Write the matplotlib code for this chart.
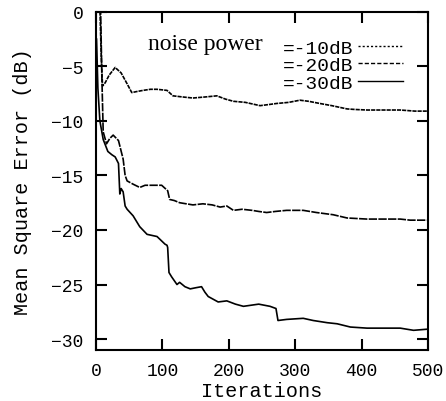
import matplotlib
matplotlib.use("Agg")
import matplotlib.pyplot as plt
from matplotlib.lines import Line2D

# Data
it_10 = [6, 8, 10, 14, 20, 29, 38, 47, 54, 62, 71, 82, 92, 107, 116, 130, 146, 165, 182, 195,
         207, 225, 247, 260, 272, 290, 307, 320, 337, 355, 378, 390, 408, 430, 458, 480, 498]
mse_10 = [0.5, -4.0, -6.8, -6.5, -5.8, -5.1, -5.6, -6.6, -7.4, -7.3, -7.2, -7.1, -7.1, -7.2, -7.7,
          -7.8, -7.9, -7.8, -7.7, -8.0, -8.2, -8.3, -8.6, -8.5, -8.4, -8.3, -8.1, -8.2, -8.4, -8.6,
          -8.9, -8.95, -9.0, -9.0, -9.0, -9.1, -9.1]

it_20 = [7, 9, 11, 16, 21, 26, 34, 41, 44, 47, 56, 66, 74, 86, 99, 108, 111, 118, 126, 136, 146,
         161, 175, 187, 197, 207, 220, 235, 245, 257, 270, 287, 312, 332, 357, 378, 408, 430, 458,
         473, 498]
mse_20 = [0.5, -6.0, -11.0, -12.1, -11.6, -11.3, -11.8, -13.5, -15.0, -15.5, -15.8, -16.1, -15.9,
          -15.9, -15.9, -16.4, -17.2, -17.3, -17.5, -17.6, -17.7, -17.6, -17.7, -17.9, -17.8, -18.2,
          -18.1, -18.2, -18.3, -18.4, -18.3, -18.2, -18.2, -18.4, -18.6, -18.9, -19.0, -19.0, -19.0,
          -19.1, -19.1]

it_30 = [1, 3, 6, 11, 18, 24, 29, 34, 36, 38, 41, 44, 47, 56, 66, 77, 92, 104, 107, 108, 110, 114,
         122, 126, 134, 142, 150, 159, 164, 169, 184, 197, 210, 222, 245, 262, 271, 274, 287, 312,
         327, 348, 363, 383, 408, 430, 458, 478, 498]
mse_30 = [-2.5, -7.0, -10.0, -11.7, -12.8, -13.1, -13.3, -13.9, -16.7, -16.2, -16.5, -17.8, -18.1,
          -18.7, -19.7, -20.4, -20.6, -21.3, -21.4, -21.6, -23.9, -24.3, -25.0, -24.8, -25.2, -25.4,
          -25.3, -25.2, -25.7, -26.1, -26.6, -26.5, -26.8, -27.0, -26.8, -27.0, -27.2, -28.3, -28.2,
          -28.1, -28.3, -28.5, -28.6, -28.9, -29.0, -29.0, -29.0, -29.2, -29.1]

labels = ["=-10dB", "=-20dB", "=-30dB"]
xticks = [0, 100, 200, 300, 400, 500]
yticks = [0, -5, -10, -15, -20, -25, -30]

mono = "Liberation Mono"
serif = "Liberation Serif"

fig = plt.figure(figsize=(4.46, 4.02), dpi=100)
ax = fig.add_axes([0.215, 0.127, 0.745, 0.841])

ax.plot(it_10, mse_10, color="black", lw=1.2, linestyle=(0, (2.5, 0.6)))
ax.plot(it_20, mse_20, color="black", lw=1.2, linestyle=(0, (5, 0.8)))
ax.plot(it_30, mse_30, color="black", lw=1.2, linestyle="-")

ax.set_xlim(0, 500)
ax.set_ylim(-31, 0)
ax.set_xticks(xticks)
ax.set_yticks(yticks)
ax.tick_params(direction="in", top=True, right=True, length=8, width=1.5,
               labelsize=13, pad=9)
for lab in ax.get_xticklabels() + ax.get_yticklabels():
    lab.set_family(mono)
for sp in ax.spines.values():
    sp.set_linewidth(1.5)

ax.set_xlabel("Iterations", family=mono, fontsize=14.5, labelpad=1)
ax.set_ylabel("Mean Square Error (dB)", family=mono, fontsize=14.5, labelpad=14)

handles = [Line2D([], [], color="black", lw=1.0, linestyle=(0, (1.5, 1.5))),
           Line2D([], [], color="black", lw=1.0, linestyle=(0, (3, 1.5))),
           Line2D([], [], color="black", lw=1.0, linestyle="-")]
leg = ax.legend(handles, labels, loc="upper left", bbox_to_anchor=(0.563, 0.92),
                frameon=False, markerfirst=False, handlelength=2.3, handletextpad=0.25,
                labelspacing=0.0, borderpad=0, borderaxespad=0,
                prop={"family": mono, "size": 14})

ax.text(0.33, 0.905, "noise power", transform=ax.transAxes, family=serif,
        fontsize=17, ha="center", va="center")

fig.savefig("out.png", dpi=100)
